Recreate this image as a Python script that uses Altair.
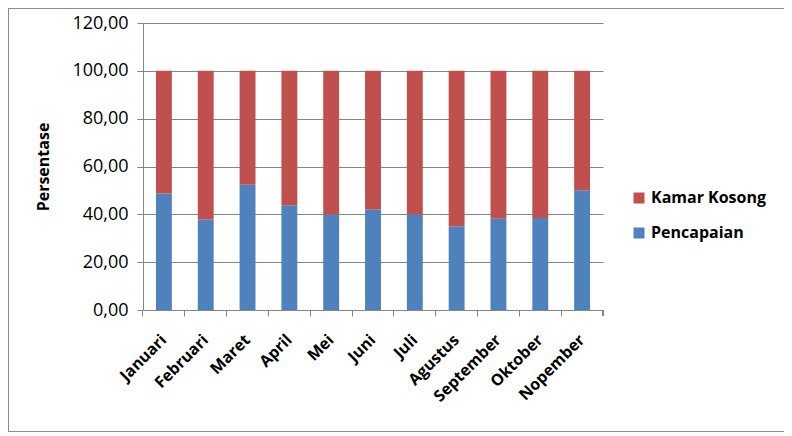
import altair as alt
import pandas as pd

months = ["Januari", "Februari", "Maret", "April", "Mei", "Juni", "Juli",
          "Agustus", "September", "Oktober", "Nopember"]
pencapaian = [48.7, 37.8, 52.4, 43.8, 39.9, 42.1, 40.0, 35.0, 38.2, 38.5, 50.1]
kamar_kosong = [51.3, 62.2, 47.6, 56.2, 60.1, 57.9, 60.0, 65.0, 61.8, 61.5, 49.9]
series = ["Kamar Kosong", "Pencapaian"]
colors = ["#C0504D", "#4F81BD"]
y_ticks = [0, 20, 40, 60, 80, 100, 120]

rows = []
for m, p, k in zip(months, pencapaian, kamar_kosong):
    rows.append({"Bulan": m, "Seri": "Pencapaian", "Nilai": p, "urut": 0})
    rows.append({"Bulan": m, "Seri": "Kamar Kosong", "Nilai": k, "urut": 1})
df = pd.DataFrame(rows)

FONT = "Open Sans"
W, H = 460, 287
P_IN, P_OUT = 0.62, 0.31
xscale = alt.Scale(paddingInner=P_IN, paddingOuter=P_OUT)

bars = alt.Chart(df).mark_bar().encode(
    x=alt.X("Bulan:N", sort=months, title=None, scale=xscale,
            axis=alt.Axis(orient="bottom", labelAngle=-45, labelAlign="right",
                          labelBaseline="middle", labelFont=FONT, labelFontSize=16,
                          labelFontWeight="bold", labelColor="#000000", labelPadding=27,
                          ticks=False, domain=False, grid=False)),
    y=alt.Y("Nilai:Q", stack="zero", title="Persentase",
            scale=alt.Scale(domain=[0, 120]),
            axis=alt.Axis(values=y_ticks,
                          labelExpr="replace(format(datum.value, '.2f'), '.', ',')",
                          labelFont=FONT, labelFontSize=18, labelColor="#000000",
                          labelPadding=9, tickSize=6, tickColor="#868686",
                          domainColor="#868686", gridColor="#868686",
                          titleFont=FONT, titleFontSize=16, titleFontWeight="bold",
                          titleColor="#000000", titlePadding=20)),
    color=alt.Color("Seri:N", scale=alt.Scale(domain=series, range=colors),
                    legend=alt.Legend(title=None, orient="none", legendX=488, legendY=167,
                                      symbolType="square", symbolSize=121,
                                      symbolStrokeWidth=0, labelFont=FONT,
                                      labelFontSize=16, labelFontWeight="bold",
                                      labelColor="#000000", rowPadding=19,
                                      labelOffset=4)),
    order=alt.Order("urut:Q"),
)

xticks = alt.Chart(df).mark_bar(opacity=0).encode(
    x=alt.X("Bulan:N", sort=months, title=None, scale=xscale,
            axis=alt.Axis(orient="bottom", bandPosition=-P_OUT / (1 - P_IN),
                          labels=False, ticks=True, tickSize=6, tickColor="#868686",
                          domainColor="#868686", grid=False)),
    y=alt.Y("Nilai:Q", stack="zero"),
)

last_tick = alt.Chart(df).mark_rule(color="#868686").encode(
    x=alt.value(W), y=alt.value(H), y2=alt.value(H + 6)
)

border = alt.Chart(df).mark_rect(fill=None, stroke="#8c8c8c", strokeWidth=1).encode(
    x=alt.value(-134.5), x2=alt.value(641.5), y=alt.value(-14.5), y2=alt.value(408.5)
)

chart = alt.layer(xticks, bars, last_tick, border).resolve_axis(
    x="independent"
).properties(
    width=W, height=H,
    padding={"left": 135, "top": 15, "right": 181, "bottom": 126},
    autosize=alt.AutoSizeParams(type="none"),
).configure_view(stroke=None).configure_axis(domainWidth=1)

chart.save("out.html", embed_options={"renderer": "svg", "actions": False})
